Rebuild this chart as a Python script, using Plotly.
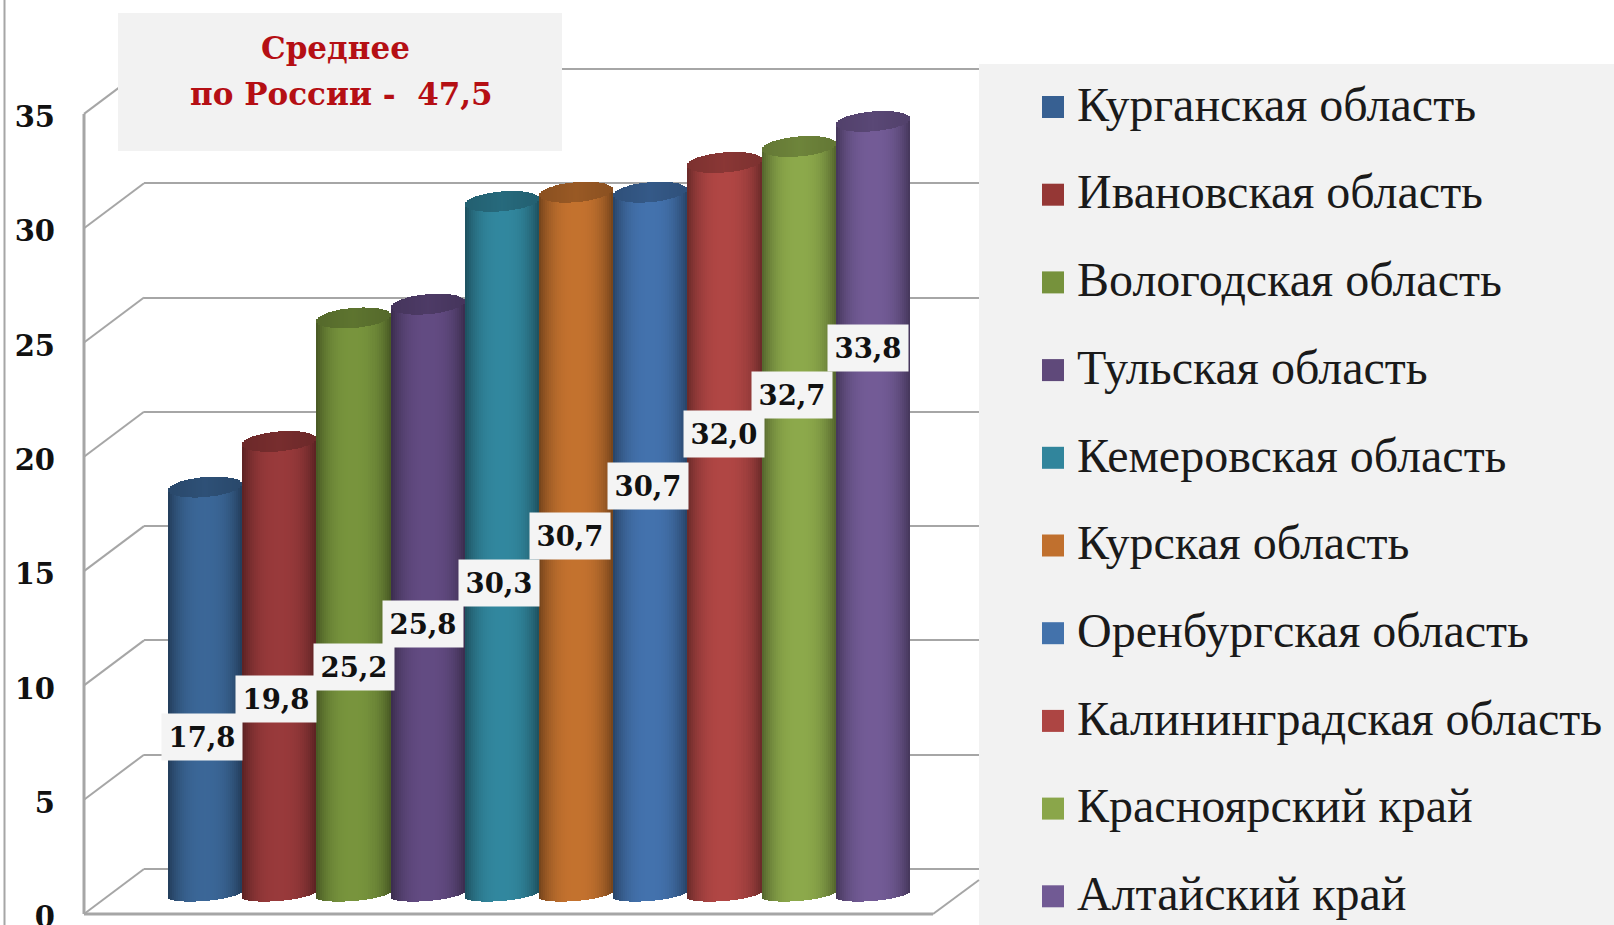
import math
import plotly.graph_objects as go

W, H = 1614, 925

regions = ["Курганская область", "Ивановская область", "Вологодская область", "Тульская область",
           "Кемеровская область", "Курская область", "Оренбургская область",
           "Калининградская область", "Красноярский край", "Алтайский край"]
values = [17.8, 19.8, 25.2, 25.8, 30.3, 30.7, 30.7, 32.0, 32.7, 33.8]
value_labels = ["17,8", "19,8", "25,2", "25,8", "30,3", "30,7", "30,7", "32,0", "32,7", "33,8"]
tick_values = [0, 5, 10, 15, 20, 25, 30, 35]

bar_colors = [(58, 101, 149), (150, 57, 58), (118, 146, 60), (97, 74, 128), (49, 133, 156),
              (192, 112, 46), (66, 112, 170), (173, 69, 67), (138, 166, 74), (113, 90, 148)]
swatch_colors = ["#376092", "#953735", "#76923c", "#5f497a", "#31859c",
                 "#c0702e", "#4372ab", "#ad4543", "#8aa64a", "#715a94"]

# layout geometry (pixels)
UNIT = 22.86
BACK_ZERO, FRONT_ZERO, BAR_ZERO, TICK_ZERO = 869, 914, 894, 917
PANEL_X = 979
BAR_W, BAR_C0 = 74.2, 205.1
label_px_x = [202, 276, 354, 423, 499, 570, 648, 724, 792, 868]
label_px_y = [737, 699, 667, 624, 583, 536, 486, 434, 395, 348]
GRID = "#a6a6a6"
FONT = "DejaVu Serif"


def y_range(zero):
    return [(zero - H) / UNIT, zero / UNIT]


fig = go.Figure()

# back wall axis needs a trace of its own so that its gridlines are drawn
fig.add_trace(go.Scatter(x=[0] * len(tick_values), y=tick_values, mode="markers",
                         marker=dict(opacity=0), showlegend=False, hoverinfo="skip"))

# cylinders: each bar is a stack of thin vertical strips sharing its value
N = 37
RY, TILT = 10 / UNIT, 3 / UNIT
for k in range(N):
    t = -1 + (2 * k + 1) / N
    arc = RY * math.sqrt(max(0, 1 - t * t))
    shade = 0.60 + 0.42 * (1 - abs(t) ** 2.6)
    body = ["rgb(%d,%d,%d)" % tuple(min(255, int(c * shade)) for c in col) for col in bar_colors]
    fig.add_trace(go.Bar(
        x=[i + t / 2 for i in range(len(values))],
        y=[v + arc * 0.7 for v in values],
        base=[-arc * 0.7 + TILT * t] * len(values), width=1 / N * 1.06,
        marker=dict(color=body, line=dict(width=0)), yaxis="y2",
        showlegend=False, hoverinfo="skip"))
for k in range(N):
    t = -1 + (2 * k + 1) / N
    arc = RY * math.sqrt(max(0, 1 - t * t))
    cap = ["rgb(%d,%d,%d)" % tuple(int(c * (0.72 + 0.08 * (1 - abs(t)))) for c in col) for col in bar_colors]
    fig.add_trace(go.Bar(
        x=[i + t / 2 for i in range(len(values))],
        y=[2 * arc] * len(values),
        base=[v + TILT * t - arc for v in values], width=1 / N * 1.06,
        marker=dict(color=cap, line=dict(width=0)), yaxis="y2",
        showlegend=False, hoverinfo="skip"))

# front-edge tick labels
fig.add_trace(go.Scatter(x=[0] * len(tick_values), y=tick_values, yaxis="y3", mode="markers",
                         marker=dict(opacity=0), showlegend=False, hoverinfo="skip"))

# legend column
for i, name in enumerate(regions):
    fig.add_trace(go.Scatter(x=[74], y=[i], xaxis="x2", yaxis="y4", mode="markers",
                             marker=dict(symbol="square", size=22, color=swatch_colors[i]),
                             name=name, showlegend=False, hoverinfo="skip"))
    fig.add_trace(go.Scatter(x=[98], y=[i + 0.02], xaxis="x2", yaxis="y4", mode="text", text=[name],
                             textposition="middle right",
                             textfont=dict(family="Liberation Serif", size=48, color="#1a1a1a"),
                             showlegend=False, hoverinfo="skip"))

shapes = [
    dict(type="rect", xref="paper", yref="paper", x0=PANEL_X / W, x1=1, y0=0, y1=1 - 64 / H,
         fillcolor="#f2f2f2", line_width=0, layer="below"),
    dict(type="rect", xref="paper", yref="paper", x0=118 / W, x1=562 / W, y0=1 - 151 / H, y1=1 - 13 / H,
         fillcolor="#f2f2f2", line_width=0, layer="above"),
]


def seg(x0, y0, x1, y1, width=2):
    return dict(type="line", xref="paper", yref="paper", x0=x0 / W, x1=x1 / W,
                y0=1 - y0 / H, y1=1 - y1 / H, line=dict(color=GRID, width=width), layer="below")


shapes.append(seg(4.5, 0, 4.5, H))
shapes.append(seg(84, FRONT_ZERO - 35 * UNIT, 84, FRONT_ZERO, 3))
shapes.append(seg(84, FRONT_ZERO, 933, FRONT_ZERO, 3))
shapes.append(seg(933, FRONT_ZERO, PANEL_X, FRONT_ZERO - 34))
for v in tick_values:
    shapes.append(seg(84, FRONT_ZERO - v * UNIT, 144, BACK_ZERO - v * UNIT))

ann = [
    dict(text="<b>Среднее</b>", x=335 / W, y=1 - 48 / H, xref="paper", yref="paper", showarrow=False,
         xanchor="center", yanchor="middle", font=dict(family=FONT, size=31, color="#b50f14")),
    dict(text="<b>по России -\u00a0\u00a047,5</b>", x=341 / W, y=1 - 94 / H, xref="paper", yref="paper",
         showarrow=False, xanchor="center", yanchor="middle", font=dict(family=FONT, size=31, color="#b50f14")),
]
for lab, px, py in zip(value_labels, label_px_x, label_px_y):
    ann.append(dict(text="<b>%s</b>" % lab, x=px / W, y=1 - py / H, xref="paper", yref="paper",
                    showarrow=False, bgcolor="#f4f4f4", width=78, height=44, align="center",
                    xanchor="center", yanchor="middle",
                    font=dict(family=FONT, size=27.5, color="#111111")))

fig.update_layout(
    width=W, height=H, margin=dict(l=0, r=0, t=0, b=0, autoexpand=False), autosize=False,
    paper_bgcolor="white", plot_bgcolor="rgba(0,0,0,0)", barmode="overlay", bargap=0,
    showlegend=False, shapes=shapes, annotations=ann,
    xaxis=dict(domain=[144 / W, PANEL_X / W],
               range=[(144 - BAR_C0) / BAR_W, (PANEL_X - BAR_C0) / BAR_W],
               visible=False),
    yaxis=dict(range=y_range(BACK_ZERO), tickvals=tick_values, showgrid=True, gridcolor=GRID, gridwidth=2,
               showticklabels=False, zeroline=False, showline=False, ticks=""),
    yaxis2=dict(range=y_range(BAR_ZERO), overlaying="y", visible=False),
    yaxis3=dict(range=y_range(TICK_ZERO), overlaying="y", anchor="free", position=55 / W, side="left",
                tickvals=tick_values, showgrid=False, zeroline=False, showline=False, ticks="",
                ticklabeloverflow="allow", automargin=False,
                tickfont=dict(family=FONT, size=29, color="#111111", weight="bold")),
    xaxis2=dict(domain=[PANEL_X / W, 1], range=[0, W - PANEL_X], visible=False, anchor="y4"),
    yaxis4=dict(domain=[0, 1], range=[(H - 107) / 87.7, -107 / 87.7], visible=False, anchor="x2"),
)

fig.write_html("out.html", config={"displayModeBar": False},
               post_script="document.body.style.margin='0';document.body.style.overflow='hidden';")
